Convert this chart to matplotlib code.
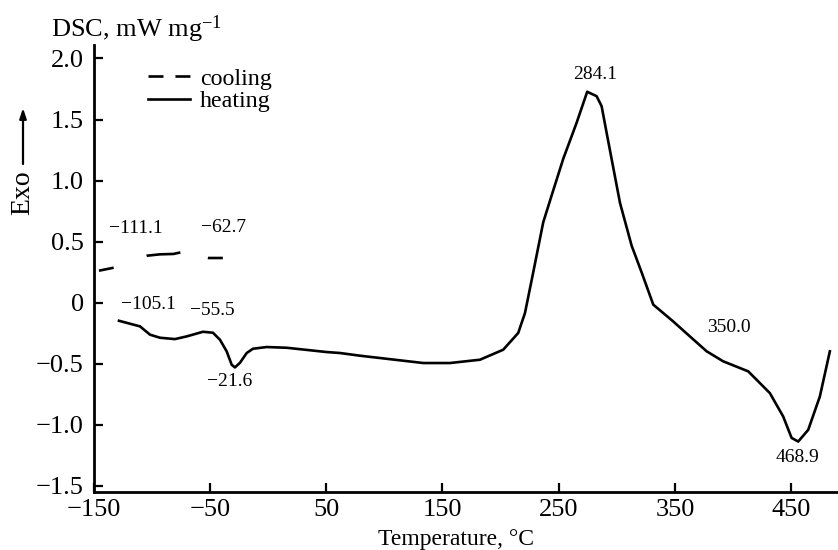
import matplotlib
matplotlib.use("Agg")
import matplotlib.pyplot as plt
from matplotlib.lines import Line2D
import numpy as np

plt.rcParams['font.family'] = ['Liberation Serif', 'DejaVu Serif']
plt.rcParams['mathtext.fontset'] = 'custom'
plt.rcParams['mathtext.rm'] = 'Liberation Serif'
plt.rcParams['mathtext.it'] = 'Liberation Serif:italic'
plt.rcParams['lines.scale_dashes'] = False

# ---- data ----
cooling_T = [-145.3, -132.4, -118.0, -103.8, -92.8, -81.4, -75.0, -63.0, -51.3, -38.4]
cooling_dsc = [0.262, 0.287, 0.340, 0.385, 0.396, 0.399, 0.412, 0.390, 0.366, 0.366]

heating_T = [-128.1, -110.0, -101.4, -92.8, -80.0, -69.9, -55.9, -47.3, -41.3, -35.5,
             -31.2, -28.4, -24.1, -18.3, -12.9, -1.1, 16.1, 50.4, 61.9, 79.1, 96.3,
             133.5, 156.4, 182.2, 202.2, 215.1, 220.9, 228.0, 236.6, 243.8, 253.8,
             265.3, 274.4, 282.5, 286.8, 291.1, 302.6, 312.6, 321.2, 331.2, 348.4,
             362.8, 377.1, 391.3, 412.8, 431.4, 442.9, 450.1, 455.8, 464.4, 474.4, 483.0]
heating_dsc = [-0.148, -0.194, -0.262, -0.287, -0.298, -0.276, -0.238, -0.246, -0.303, -0.399,
               -0.508, -0.530, -0.492, -0.412, -0.377, -0.363, -0.369, -0.404, -0.412, -0.434, -0.453,
               -0.494, -0.494, -0.467, -0.385, -0.248, -0.085, 0.248, 0.658, 0.877, 1.178,
               1.473, 1.727, 1.691, 1.609, 1.391, 0.817, 0.467, 0.248, -0.016, -0.154,
               -0.277, -0.398, -0.480, -0.562, -0.740, -0.932, -1.107, -1.137, -1.041, -0.768, -0.398]

peak_labels = ['−111.1', '−62.7', '−105.1', '−55.5', '−21.6', '284.1', '350.0', '468.9']
peak_label_T = [-113.5, -37.8, -103.2, -48.1, -32.7, 281.1, 396.2, 455.6]
peak_label_y = [0.607, 0.615, -0.016, -0.066, -0.648, 1.869, -0.205, -1.270]

xticks = [-150, -50, 50, 150, 250, 350, 450]
xtick_labels = ['−150', '−50', '50', '150', '250', '350', '450']
yticks = [2.0, 1.5, 1.0, 0.5, 0.0, -0.5, -1.0, -1.5]
ytick_labels = ['2.0', '1.5', '1.0', '0.5', '0', '−0.5', '−1.0', '−1.5']

series_names = ['cooling', 'heating']

# ---- figure ----
W, H = 838, 550
fig = plt.figure(figsize=(W / 100, H / 100), dpi=100)
ax = fig.add_axes([93.5 / W, 1 - 492 / H, 1 - 93.5 / W, (492 - 45) / H])

lw = 1.9
ax.plot(cooling_T, cooling_dsc, color='black', lw=lw,
        linestyle=(0, (10.8, 25.2, 24.5, 20.2, 10.8, 720)), solid_capstyle='butt',
        dash_capstyle='butt')
ax.plot(heating_T, heating_dsc, color='black', lw=lw, solid_joinstyle='round')

for lab, tx, ty in zip(peak_labels, peak_label_T, peak_label_y):
    ax.text(tx, ty, lab, ha='center', va='center', fontsize=14)

ax.set_xlim(-150, 490)
ax.set_ylim(-1.55, 2.11)
ax.set_xticks(xticks)
ax.set_xticklabels(xtick_labels)
ax.set_yticks(yticks)
ax.set_yticklabels(ytick_labels)

for s in ['top', 'right']:
    ax.spines[s].set_visible(False)
for s in ['left', 'bottom']:
    ax.spines[s].set_linewidth(2.0)

ax.tick_params(direction='in', length=6.5, width=1.6, labelsize=19)
ax.tick_params(axis='y', pad=7)
ax.tick_params(axis='x', pad=5)

ax.set_xlabel('Temperature, °C', fontsize=17)
ax.xaxis.set_label_coords((456 - 93.5) / 744.5, (492 - 529) / 447)

handles = [Line2D([], [], color='black', lw=lw, linestyle=(0, (10.8, 8.6)), dash_capstyle='butt'),
           Line2D([], [], color='black', lw=lw)]
fs_leg = 17.3
ax.legend(handles, series_names, loc='upper left', bbox_to_anchor=(0.0732, 0.9485),
          frameon=False, fontsize=fs_leg, handlelength=30.2 / fs_leg,
          handletextpad=7.2 / fs_leg, borderpad=0, borderaxespad=0, labelspacing=0.03)

fig.text(51 / W, 1 - 29 / H, 'DSC, mW mg$^{-1}$', fontsize=19, ha='left', va='center')

fig.text(23 / W, 1 - 193 / H, 'Exo', rotation=90, fontsize=20, ha='center', va='center')
ax.annotate('', xy=(23 / W, 1 - 108 / H), xytext=(23 / W, 1 - 164 / H),
            xycoords='figure fraction', textcoords='figure fraction',
            arrowprops=dict(arrowstyle='-|>,head_length=0.6,head_width=0.2', lw=1.6,
                            color='black', shrinkA=0, shrinkB=0))

fig.savefig('out.png', dpi=100)
